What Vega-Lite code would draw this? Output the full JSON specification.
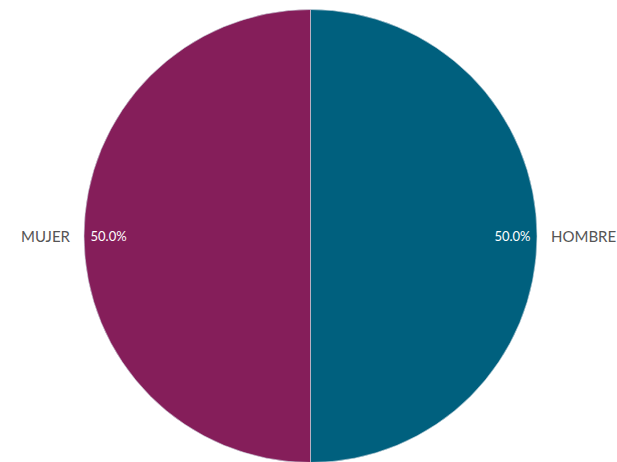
{
  "$schema": "https://vega.github.io/schema/vega-lite/v6.json",
  "width": 621,
  "height": 452,
  "autosize": {"type": "none"},
  "padding": {"left": 0, "top": 10, "right": 0, "bottom": 0},
  "background": "white",
  "config": {"view": {"stroke": null}},
  "data": {"values": [
    {"sexo": "HOMBRE", "valor": 50, "pct": "50.0%", "orden": 1},
    {"sexo": "MUJER", "valor": 50, "pct": "50.0%", "orden": 2}
  ]},
  "encoding": {
    "theta": {"field": "valor", "type": "quantitative", "stack": true},
    "order": {"field": "orden", "type": "quantitative"}
  },
  "layer": [
    {
      "mark": {"type": "arc", "outerRadius": 226.5, "stroke": "#cfd8e0", "strokeWidth": 0.6},
      "encoding": {
        "color": {"field": "sexo", "type": "nominal", "scale": {"domain": ["HOMBRE", "MUJER"], "range": ["#00607E", "#851E5A"]}, "legend": null}
      }
    },
    {
      "mark": {"type": "text", "radius": 240.5, "align": "left", "baseline": "middle", "dy": 1, "font": "Lato", "fontSize": 15, "color": "#555555"},
      "encoding": {"text": {"condition": {"test": "datum.sexo === 'HOMBRE'", "field": "sexo"}, "value": ""}}
    },
    {
      "mark": {"type": "text", "radius": 240.5, "align": "right", "baseline": "middle", "dy": 1, "font": "Lato", "fontSize": 15, "color": "#555555"},
      "encoding": {"text": {"condition": {"test": "datum.sexo === 'MUJER'", "field": "sexo"}, "value": ""}}
    },
    {
      "mark": {"type": "text", "radius": 220, "align": "right", "baseline": "middle", "dy": 1, "font": "Lato", "fontSize": 13, "color": "white"},
      "encoding": {"text": {"condition": {"test": "datum.sexo === 'HOMBRE'", "field": "pct"}, "value": ""}}
    },
    {
      "mark": {"type": "text", "radius": 220, "align": "left", "baseline": "middle", "dy": 1, "font": "Lato", "fontSize": 13, "color": "white"},
      "encoding": {"text": {"condition": {"test": "datum.sexo === 'MUJER'", "field": "pct"}, "value": ""}}
    }
  ]
}
